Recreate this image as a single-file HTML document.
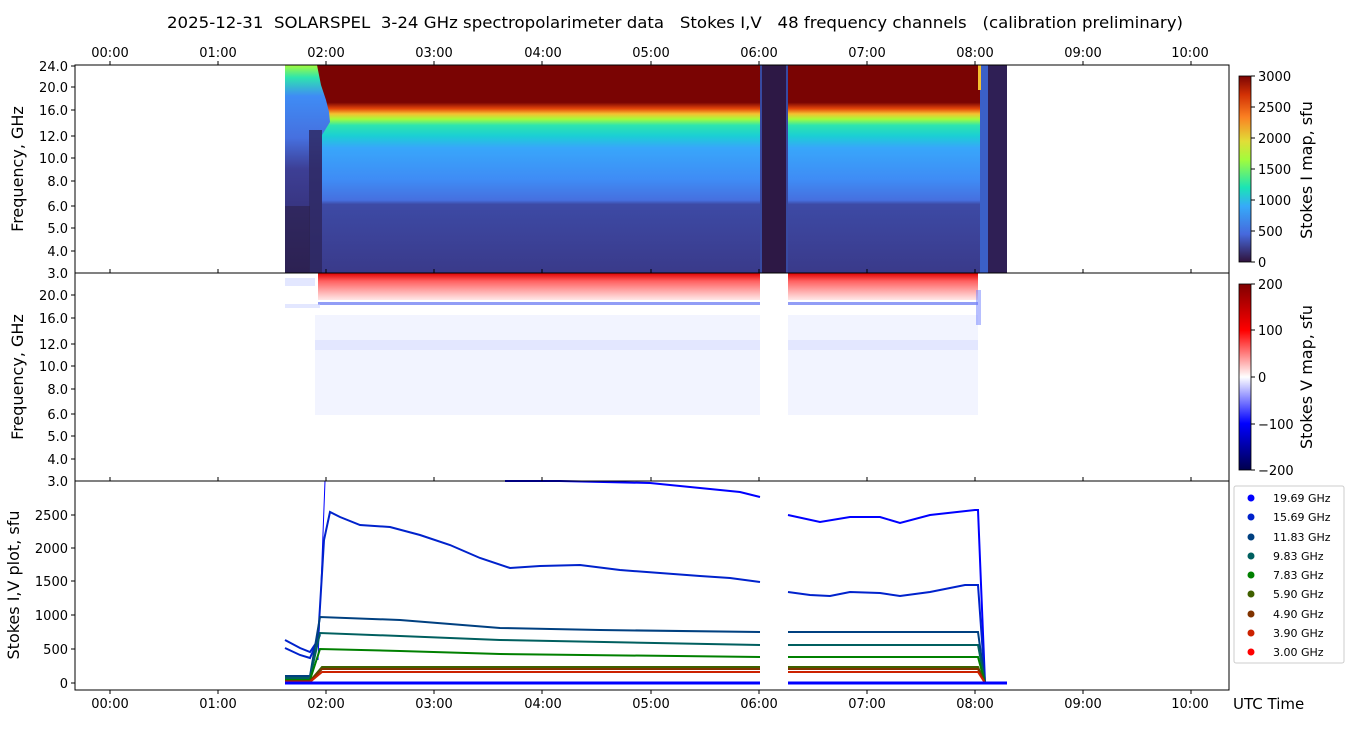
<!DOCTYPE html>
<html><head><meta charset="utf-8"><style>
body{margin:0;background:#fff;}
svg text{font-family:"DejaVu Sans","Liberation Sans",sans-serif;white-space:pre;}
</style></head><body>
<svg width="1350" height="725" xmlns="http://www.w3.org/2000/svg">
<defs>
<linearGradient id="gI" x1="0" y1="65" x2="0" y2="273" gradientUnits="userSpaceOnUse">
<stop offset="0" stop-color="#7a0403"/><stop offset="0.18" stop-color="#7a0403"/>
<stop offset="0.21" stop-color="#e4460a"/><stop offset="0.235" stop-color="#f5c030"/>
<stop offset="0.26" stop-color="#a4fc3c"/><stop offset="0.29" stop-color="#2ee5ae"/>
<stop offset="0.34" stop-color="#1bcfd4"/><stop offset="0.4" stop-color="#38a6fb"/>
<stop offset="0.55" stop-color="#3f8cf5"/><stop offset="0.65" stop-color="#4670df"/>
<stop offset="0.67" stop-color="#3d4aa5"/><stop offset="1" stop-color="#3a3a8a"/>
</linearGradient>
<linearGradient id="gL" x1="0" y1="65" x2="0" y2="273" gradientUnits="userSpaceOnUse">
<stop offset="0" stop-color="#a4fc3c"/><stop offset="0.06" stop-color="#2ee5ae"/>
<stop offset="0.15" stop-color="#3f8cf5"/><stop offset="0.35" stop-color="#4670df"/>
<stop offset="0.5" stop-color="#3d3f95"/><stop offset="1" stop-color="#2f2460"/>
</linearGradient>
<linearGradient id="cbI" x1="0" y1="1" x2="0" y2="0">
<stop offset="0" stop-color="#30123b"/><stop offset="0.15" stop-color="#4669dd"/>
<stop offset="0.3" stop-color="#36aaf9"/><stop offset="0.4" stop-color="#1ae4b6"/>
<stop offset="0.55" stop-color="#a2fc3c"/><stop offset="0.65" stop-color="#e1dd37"/>
<stop offset="0.78" stop-color="#fb8022"/><stop offset="0.9" stop-color="#d23105"/>
<stop offset="1" stop-color="#7a0403"/>
</linearGradient>
<linearGradient id="cbV" x1="0" y1="1" x2="0" y2="0">
<stop offset="0" stop-color="#00004c"/><stop offset="0.25" stop-color="#0000ff"/>
<stop offset="0.5" stop-color="#ffffff"/><stop offset="0.75" stop-color="#ff0000"/>
<stop offset="1" stop-color="#800000"/>
</linearGradient>
<linearGradient id="vtop" x1="0" y1="273" x2="0" y2="300" gradientUnits="userSpaceOnUse">
<stop offset="0" stop-color="#e00000"/><stop offset="0.3" stop-color="#ff6060"/>
<stop offset="0.7" stop-color="#ffb0b0"/><stop offset="1" stop-color="#ffe8e8"/>
</linearGradient>
</defs>
<text x="167" y="28" font-size="16" textLength="1016" lengthAdjust="spacingAndGlyphs">2025-12-31  SOLARSPEL  3-24 GHz spectropolarimeter data   Stokes I,V   48 frequency channels   (calibration preliminary)</text>

<!-- Panel 1 -->
<rect x="285" y="65" width="475" height="208" fill="url(#gI)"/>
<rect x="788" y="65" width="192" height="208" fill="url(#gI)"/>
<polygon points="285,65 317,65 321,85 326,100 329,112 330,122 322,135 285,135" fill="url(#gL)"/>
<rect x="285" y="135" width="37" height="138" fill="url(#gL)"/>
<rect x="309" y="130" width="13" height="143" fill="#2f2a65" opacity="0.85"/>
<rect x="285" y="206" width="25" height="67" fill="#2c1f4a" opacity="0.6"/>
<rect x="760" y="65" width="28" height="208" fill="#2d1845"/>
<rect x="760" y="65" width="2" height="208" fill="#3f6ae0" opacity="0.6"/>
<rect x="786" y="65" width="2" height="208" fill="#3f6ae0" opacity="0.6"/>
<rect x="980" y="65" width="27" height="208" fill="#2f1f55"/>
<rect x="980" y="65" width="8" height="208" fill="#3f70e5" opacity="0.8"/>
<rect x="978" y="65" width="3" height="25" fill="#f5c030"/>
<rect x="75" y="65" width="1154" height="208" fill="none" stroke="#000"/>

<!-- Panel 2 -->
<rect x="318" y="273" width="442" height="27" fill="url(#vtop)"/>
<rect x="788" y="273" width="190" height="27" fill="url(#vtop)"/>
<rect x="318" y="302" width="442" height="3" fill="#4a5cf0" opacity="0.6"/>
<rect x="788" y="302" width="190" height="3" fill="#4a5cf0" opacity="0.6"/>
<rect x="285" y="278" width="30" height="8" fill="#c8d0ff" opacity="0.5"/>
<rect x="285" y="304" width="35" height="4" fill="#c8cfff" opacity="0.5"/>
<rect x="315" y="315" width="445" height="100" fill="#e6e9ff" opacity="0.5"/>
<rect x="788" y="315" width="190" height="100" fill="#e6e9ff" opacity="0.5"/>
<rect x="315" y="340" width="445" height="10" fill="#d4daff" opacity="0.5"/>
<rect x="788" y="340" width="190" height="10" fill="#d4daff" opacity="0.5"/>
<rect x="976" y="290" width="5" height="35" fill="#7080ff" opacity="0.5"/>
<rect x="75" y="273" width="1154" height="208" fill="none" stroke="#000"/>

<!-- Panel 3 -->
<g fill="none" stroke-width="2">
<polyline stroke="#0000ff" stroke-width="1" points="318,660 322,560 325,481"/>
<polyline stroke="#0000ff" points="505,481 560,481 650,483 700,488 740,492 760,497"/>
<polyline stroke="#0000ff" points="788,515 820,522 850,517 880,517 900,523 930,515 975,510 978,510 985,683"/>
<polyline stroke="#0022cc" points="285,640 300,648 310,652 318,640 324,540 330,512 340,517 360,525 390,527 420,535 450,545 480,558 510,568 540,566 580,565 620,570 660,573 700,576 730,578 760,582"/>
<polyline stroke="#0022cc" points="788,592 810,595 830,596 850,592 880,593 900,596 930,592 965,585 978,585 985,683"/>
<polyline stroke="#0022cc" points="285,648 300,655 310,658 320,635"/>
<polyline stroke="#004080" points="285,676 310,676 320,617 400,620 500,628 600,630 760,632"/>
<polyline stroke="#004080" points="788,632 978,632 985,683"/>
<polyline stroke="#005f5f" points="285,678 310,678 320,633 400,636 500,640 760,645"/>
<polyline stroke="#005f5f" points="788,645 978,645 985,683"/>
<polyline stroke="#008000" points="285,680 310,680 320,649 400,651 500,654 760,657"/>
<polyline stroke="#008000" points="788,657 978,657 985,683"/>
<polyline stroke="#406000" points="285,681 310,681 322,667 760,667"/>
<polyline stroke="#406000" points="788,667 978,667 985,683"/>
<polyline stroke="#803300" points="285,681 310,681 322,669 760,669"/>
<polyline stroke="#803300" points="788,669 978,669 985,683"/>
<polyline stroke="#cc2200" points="285,682 310,682 322,672 760,672"/>
<polyline stroke="#cc2200" points="788,672 978,672 985,683"/>
<polyline stroke="#0000ff" stroke-width="3" points="285,683 760,683"/>
<polyline stroke="#0000ff" stroke-width="3" points="788,683 1007,683"/>
</g>
<rect x="75" y="481" width="1154" height="209" fill="none" stroke="#000"/>

<!-- time ticks -->
<g stroke="#000" font-size="13">
<path d="M110,65v-4M218,65v-4M326,65v-4M434,65v-4M542,65v-4M651,65v-4M759,65v-4M867,65v-4M975,65v-4M1083,65v-4M1191,65v-4
M110,690v4M218,690v4M326,690v4M434,690v4M542,690v4M651,690v4M759,690v4M867,690v4M975,690v4M1083,690v4M1191,690v4
M110,273v-4M218,273v-4M326,273v-4M434,273v-4M542,273v-4M651,273v-4M759,273v-4M867,273v-4M975,273v-4M1083,273v-4M1191,273v-4
M110,481v-4M218,481v-4M326,481v-4M434,481v-4M542,481v-4M651,481v-4M759,481v-4M867,481v-4M975,481v-4M1083,481v-4M1191,481v-4"/>
</g>
<g font-size="13" text-anchor="middle">
<text x="110" y="57">00:00</text><text x="218" y="57">01:00</text><text x="326" y="57">02:00</text><text x="434" y="57">03:00</text><text x="543" y="57">04:00</text><text x="651" y="57">05:00</text><text x="759" y="57">06:00</text><text x="867" y="57">07:00</text><text x="975" y="57">08:00</text><text x="1083" y="57">09:00</text><text x="1190" y="57">10:00</text>
<text x="110" y="708">00:00</text><text x="218" y="708">01:00</text><text x="326" y="708">02:00</text><text x="434" y="708">03:00</text><text x="543" y="708">04:00</text><text x="651" y="708">05:00</text><text x="759" y="708">06:00</text><text x="867" y="708">07:00</text><text x="975" y="708">08:00</text><text x="1083" y="708">09:00</text><text x="1190" y="708">10:00</text>
</g>
<text x="1233" y="709" font-size="15">UTC Time</text>

<!-- freq labels -->
<g font-size="13" text-anchor="end">
<text x="68" y="71">24.0</text><text x="68" y="92">20.0</text><text x="68" y="115">16.0</text><text x="68" y="141">12.0</text><text x="68" y="163">10.0</text><text x="68" y="186">8.0</text><text x="68" y="211">6.0</text><text x="68" y="233">5.0</text><text x="68" y="256">4.0</text><text x="68" y="278">3.0</text>
<text x="68" y="300">20.0</text><text x="68" y="323">16.0</text><text x="68" y="349">12.0</text><text x="68" y="371">10.0</text><text x="68" y="394">8.0</text><text x="68" y="419">6.0</text><text x="68" y="441">5.0</text><text x="68" y="464">4.0</text><text x="68" y="486">3.0</text>
<text x="68" y="520">2500</text><text x="68" y="553">2000</text><text x="68" y="586">1500</text><text x="68" y="620">1000</text><text x="68" y="654">500</text><text x="68" y="688">0</text>
</g>
<g stroke="#000"><path d="M75,66h-4M75,87h-4M75,110h-4M75,136h-4M75,158h-4M75,181h-4M75,206h-4M75,228h-4M75,251h-4
M75,295h-4M75,318h-4M75,344h-4M75,366h-4M75,389h-4M75,414h-4M75,436h-4M75,459h-4
M75,515h-4M75,548h-4M75,581h-4M75,615h-4M75,649h-4M75,683h-4"/></g>
<text transform="translate(23,169) rotate(-90)" font-size="16" text-anchor="middle">Frequency, GHz</text>
<text transform="translate(23,377) rotate(-90)" font-size="16" text-anchor="middle">Frequency, GHz</text>
<text transform="translate(19,585) rotate(-90)" font-size="16" text-anchor="middle">Stokes I,V plot, sfu</text>

<!-- colorbars -->
<rect x="1239" y="76" width="12" height="186" fill="url(#cbI)" stroke="#000" stroke-width="0.8"/>
<rect x="1239" y="284" width="12" height="186" fill="url(#cbV)" stroke="#000" stroke-width="0.8"/>
<g stroke="#000"><path d="M1251,76h4M1251,107h4M1251,138h4M1251,169h4M1251,200h4M1251,231h4M1251,262h4M1251,284h4M1251,330h4M1251,377h4M1251,424h4M1251,470h4"/></g>
<g font-size="13">
<text x="1258" y="81">3000</text><text x="1258" y="112">2500</text><text x="1258" y="143">2000</text><text x="1258" y="174">1500</text><text x="1258" y="205">1000</text><text x="1258" y="236">500</text><text x="1258" y="267">0</text>
<text x="1258" y="289">200</text><text x="1258" y="335">100</text><text x="1258" y="382">0</text><text x="1258" y="429">−100</text><text x="1258" y="475">−200</text>
</g>
<text transform="translate(1312,170) rotate(-90)" font-size="16" text-anchor="middle">Stokes I map, sfu</text>
<text transform="translate(1312,377) rotate(-90)" font-size="16" text-anchor="middle">Stokes V map, sfu</text>

<!-- legend -->
<rect x="1234" y="486" width="110" height="177" fill="#fff" stroke="#ccc" rx="2"/>
<g font-size="11">
<circle cx="1251" cy="498" r="3.5" fill="#0000ff"/><text x="1273" y="502">19.69 GHz</text>
<circle cx="1251" cy="517" r="3.5" fill="#0022cc"/><text x="1273" y="521">15.69 GHz</text>
<circle cx="1251" cy="537" r="3.5" fill="#004080"/><text x="1273" y="541">11.83 GHz</text>
<circle cx="1251" cy="556" r="3.5" fill="#005f5f"/><text x="1273" y="560">9.83 GHz</text>
<circle cx="1251" cy="575" r="3.5" fill="#008000"/><text x="1273" y="579">7.83 GHz</text>
<circle cx="1251" cy="594" r="3.5" fill="#406000"/><text x="1273" y="598">5.90 GHz</text>
<circle cx="1251" cy="614" r="3.5" fill="#803300"/><text x="1273" y="618">4.90 GHz</text>
<circle cx="1251" cy="633" r="3.5" fill="#cc2200"/><text x="1273" y="637">3.90 GHz</text>
<circle cx="1251" cy="652" r="3.5" fill="#ff0000"/><text x="1273" y="656">3.00 GHz</text>
</g>
</svg>
</body></html>
